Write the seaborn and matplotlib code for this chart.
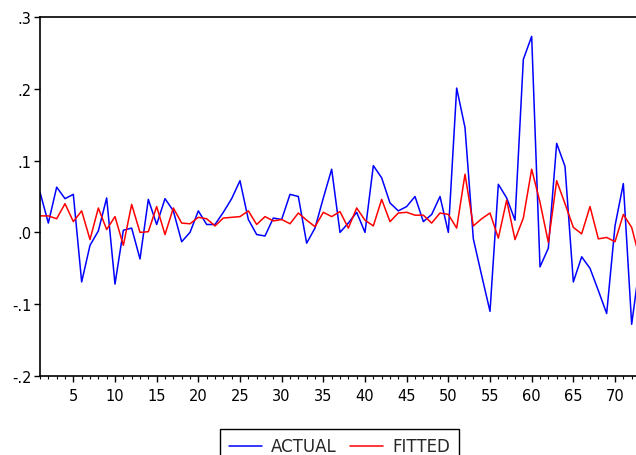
import matplotlib
matplotlib.use("Agg")
import matplotlib.pyplot as plt
from matplotlib.ticker import MultipleLocator
import seaborn as sns

# observations 1..73
obs = list(range(1, 74))

actual = [0.056, 0.013, 0.063, 0.047, 0.053, -0.069, -0.018, 0.002, 0.048, -0.072,
          0.003, 0.006, -0.037, 0.046, 0.011, 0.047, 0.030, -0.013, 0.000, 0.030,
          0.011, 0.011, 0.028, 0.047, 0.072, 0.018, -0.003, -0.005, 0.020, 0.018,
          0.053, 0.050, -0.015, 0.006, 0.048, 0.088, 0.000, 0.013, 0.028, 0.000,
          0.093, 0.076, 0.041, 0.030, 0.036, 0.050, 0.015, 0.025, 0.050, 0.000,
          0.201, 0.146, -0.009, -0.060, -0.110, 0.067, 0.048, 0.017, 0.241, 0.273,
          -0.048, -0.022, 0.124, 0.092, -0.069, -0.034, -0.050, -0.081, -0.113, 0.009,
          0.068, -0.128, -0.041]

fitted = [0.023, 0.023, 0.019, 0.040, 0.015, 0.030, -0.010, 0.034, 0.004, 0.022,
          -0.018, 0.039, 0.000, 0.001, 0.036, -0.003, 0.034, 0.013, 0.012, 0.021,
          0.019, 0.009, 0.020, 0.021, 0.022, 0.030, 0.011, 0.022, 0.016, 0.018,
          0.012, 0.027, 0.017, 0.008, 0.028, 0.022, 0.029, 0.006, 0.034, 0.017,
          0.009, 0.046, 0.015, 0.027, 0.028, 0.024, 0.024, 0.013, 0.027, 0.025,
          0.006, 0.081, 0.009, 0.019, 0.027, -0.008, 0.045, -0.010, 0.020, 0.088,
          0.042, -0.014, 0.072, 0.040, 0.007, -0.002, 0.036, -0.009, -0.007, -0.013,
          0.025, 0.007, -0.038]

y_ticks = [-0.2, -0.1, 0.0, 0.1, 0.2, 0.3]
y_labels = ["-.2", "-.1", ".0", ".1", ".2", ".3"]
x_ticks = list(range(5, 71, 5))

sns.set_style("ticks")
plt.rcParams['font.family'] = ['DejaVu Sans']

fig = plt.figure(figsize=(6.36, 4.56), dpi=100)
# axes right edge runs slightly past the figure, like the cropped original
ax = fig.add_axes([40 / 636, 79 / 456, 600 / 636, 359 / 456])

sns.lineplot(x=obs, y=actual, color="#0000FF", lw=1.1, label="ACTUAL", ax=ax)
sns.lineplot(x=obs, y=fitted, color="#FF0000", lw=1.1, label="FITTED", ax=ax)

ax.set_xlim(1, 73)
ax.set_ylim(-0.2, 0.3)
ax.set_yticks(y_ticks)
ax.set_yticklabels(y_labels)
ax.set_xticks(x_ticks)
ax.xaxis.set_minor_locator(MultipleLocator(1))
ax.tick_params(axis="both", which="major", direction="out", length=4, width=1,
               colors="black", labelsize=10.5, pad=2)
ax.tick_params(axis="x", which="minor", direction="out", length=2.5, width=0.8,
               colors="black")
ax.tick_params(axis="x", which="major", pad=5)

for s in ax.spines.values():
    s.set_color("black")
    s.set_linewidth(1.2)

ax.legend(loc="upper center", bbox_to_anchor=(339.5 / 636, 1 - 430 / 456),
          bbox_transform=fig.transFigure, ncol=2, frameon=True, fancybox=False,
          edgecolor="black", fontsize=12, handlelength=2.0, handletextpad=0.55,
          columnspacing=0.8, borderpad=0.5, borderaxespad=0, framealpha=1)
ax.get_legend().get_frame().set_linewidth(1.0)

fig.savefig("out.png", dpi=100)
